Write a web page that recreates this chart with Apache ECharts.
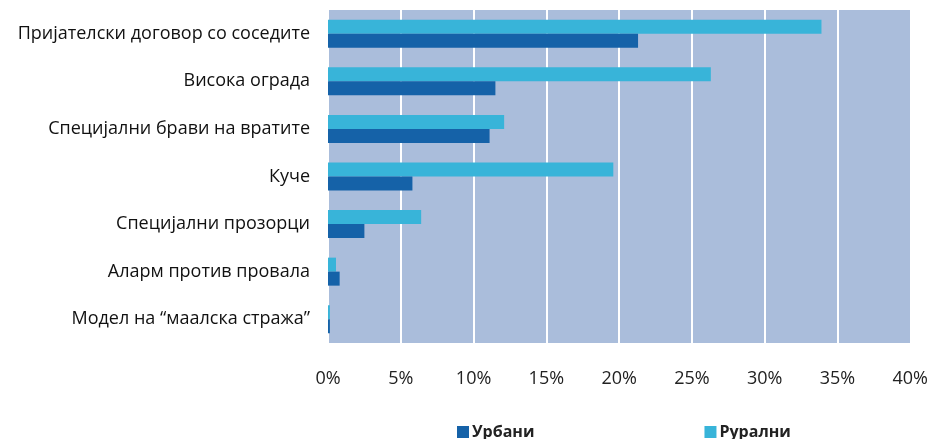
<!DOCTYPE html>
<html>
<head>
<meta charset="utf-8">
<script src="https://cdn.jsdelivr.net/npm/echarts@6/dist/echarts.min.js"></script>
<style>
  html, body { margin: 0; padding: 0; background: #ffffff; }
  #chart { width: 931px; height: 439px; }
</style>
</head>
<body>
<div id="chart"></div>
<script>
// Security measures by household type (percent)
const categories = [
  'Пријателски договор со соседите',
  'Висока ограда',
  'Специјални брави на вратите',
  'Куче',
  'Специјални прозорци',
  'Аларм против провала',
  'Модел на “маалска стража”'
];
const seriesNames = ['Урбани', 'Рурални'];
const urbanValues = [21.3, 11.5, 11.1, 5.8, 2.5, 0.8, 0.13];
const ruralValues = [33.9, 26.3, 12.1, 19.6, 6.4, 0.55, 0.13];
const xTicks = [0, 5, 10, 15, 20, 25, 30, 35, 40];

const fontFamily = '"Open Sans", "Noto Sans", sans-serif';

const chart = echarts.init(document.getElementById('chart'));
chart.setOption({
  animation: false,
  textStyle: { fontFamily: fontFamily },
  grid: {
    left: 328, right: 19, top: 10, bottom: 96,
    show: true, backgroundColor: '#AABDDB', borderWidth: 0
  },
  legend: {
    data: seriesNames,
    left: 457, top: 424, padding: 0,
    itemWidth: 12, itemHeight: 12, itemGap: 170,
    icon: 'rect',
    textStyle: { fontFamily: fontFamily, fontSize: 16, fontWeight: 'bold', color: '#222', padding: [0, 0, 0, -2] }
  },
  xAxis: {
    type: 'value',
    min: xTicks[0], max: xTicks[xTicks.length - 1], interval: 5,
    axisLine: { show: false },
    axisTick: { show: false },
    splitLine: { show: true, lineStyle: { color: '#ffffff', width: 2 } },
    axisLabel: {
      margin: 27, fontSize: 18, color: '#222',
      formatter: v => v + '%'
    }
  },
  yAxis: {
    type: 'category',
    data: categories,
    inverse: true,
    axisLine: { show: false },
    axisTick: { show: false },
    axisLabel: { margin: 18, fontSize: 18, color: '#111' }
  },
  series: [
    // rural bar drawn on the upper half of each band
    {
      name: seriesNames[1], type: 'bar', data: ruralValues,
      barWidth: 14, barGap: '0%',
      itemStyle: { color: '#38B4D9' }
    },
    {
      name: seriesNames[0], type: 'bar', data: urbanValues,
      barWidth: 14, barGap: '0%',
      itemStyle: { color: '#1562A8' }
    }
  ]
});
</script>
</body>
</html>
